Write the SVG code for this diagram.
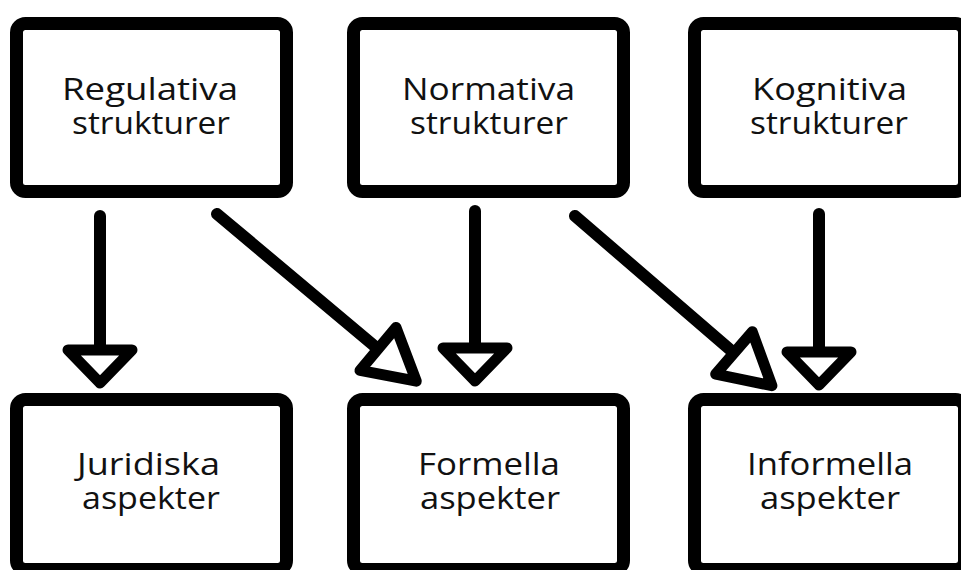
<svg xmlns="http://www.w3.org/2000/svg" width="961" height="570" viewBox="0 0 961 570">
<style>
.box{fill:#fff;stroke:#000;stroke-width:13}
.lbl{font-family:"Open Sans","Noto Sans","Liberation Sans",sans-serif;font-size:31px;fill:#111;text-anchor:middle}
.shaft{stroke:#000;stroke-width:12;stroke-linecap:round;fill:none}
</style>
<defs>
<marker id="hv" markerUnits="userSpaceOnUse" orient="auto" refX="0" refY="0" markerWidth="80" markerHeight="80" viewBox="-10 -40 60 80" overflow="visible">
<path d="M0,-32 L33,0 L0,32 Z" fill="#fff" stroke="#000" stroke-width="11" stroke-linejoin="round"/>
</marker>
<marker id="hd" markerUnits="userSpaceOnUse" orient="auto" refX="0" refY="0" markerWidth="80" markerHeight="80" viewBox="-10 -40 70 80" overflow="visible">
<path d="M0,-28 L50,0 L0,28 Z" fill="#fff" stroke="#000" stroke-width="11" stroke-linejoin="round"/>
</marker>
</defs>
<rect width="961" height="570" fill="#fff"/>
<g id="connectors">
<line class="shaft" x1="100" y1="216" x2="100" y2="350" marker-end="url(#hv)"/>
<line class="shaft" x1="217" y1="214" x2="378" y2="349" marker-end="url(#hd)"/>
<line class="shaft" x1="475" y1="211" x2="475" y2="348" marker-end="url(#hv)"/>
<line class="shaft" x1="575" y1="216" x2="734" y2="353" marker-end="url(#hd)"/>
<line class="shaft" x1="819" y1="214" x2="819" y2="352" marker-end="url(#hv)"/>
</g>
<g id="regulativa">
<rect class="box" x="16.5" y="23.5" width="270" height="168" rx="9"/>
<text class="lbl" x="150" y="100" textLength="176" lengthAdjust="spacingAndGlyphs">Regulativa</text>
<text class="lbl" x="151" y="134" textLength="158" lengthAdjust="spacingAndGlyphs">strukturer</text>
</g>
<g id="normativa">
<rect class="box" x="353.5" y="23.5" width="270" height="168" rx="9"/>
<text class="lbl" x="488.5" y="100" textLength="173" lengthAdjust="spacingAndGlyphs">Normativa</text>
<text class="lbl" x="489" y="134" textLength="158" lengthAdjust="spacingAndGlyphs">strukturer</text>
</g>
<g id="kognitiva">
<rect class="box" x="694.5" y="23.5" width="270" height="168" rx="9"/>
<text class="lbl" x="829.5" y="100" textLength="155" lengthAdjust="spacingAndGlyphs">Kognitiva</text>
<text class="lbl" x="829" y="134" textLength="158" lengthAdjust="spacingAndGlyphs">strukturer</text>
</g>
<g id="juridiska">
<rect class="box" x="16.5" y="399.5" width="270" height="170" rx="9"/>
<text class="lbl" x="148.5" y="475" textLength="143" lengthAdjust="spacingAndGlyphs">Juridiska</text>
<text class="lbl" x="151" y="509" textLength="138" lengthAdjust="spacingAndGlyphs">aspekter</text>
</g>
<g id="formella">
<rect class="box" x="353.5" y="399.5" width="270" height="170" rx="9"/>
<text class="lbl" x="489" y="475" textLength="142" lengthAdjust="spacingAndGlyphs">Formella</text>
<text class="lbl" x="490" y="509" textLength="140" lengthAdjust="spacingAndGlyphs">aspekter</text>
</g>
<g id="informella">
<rect class="box" x="694.5" y="399.5" width="270" height="170" rx="9"/>
<text class="lbl" x="830" y="475" textLength="166" lengthAdjust="spacingAndGlyphs">Informella</text>
<text class="lbl" x="830" y="509" textLength="140" lengthAdjust="spacingAndGlyphs">aspekter</text>
</g>
</svg>
